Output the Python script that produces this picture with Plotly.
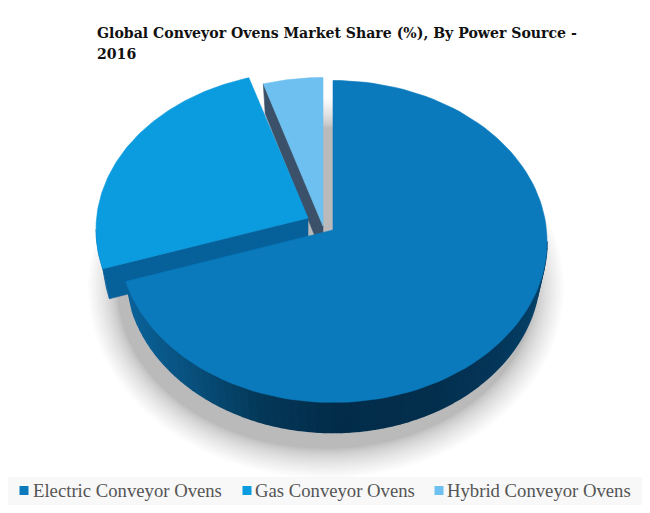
import numpy as np
import plotly.graph_objects as go

categories = ["Electric Conveyor Ovens", "Gas Conveyor Ovens", "Hybrid Conveyor Ovens"]
shares = [71.0, 24.5, 4.5]
slice_colors = ["#0a7abc", "#0b9bdf", "#6dc0ef"]
wall_colors = ["#06609a", "#06609a", "#3a5169"]
title_lines = ["Global Conveyor Ovens Market Share (%), By Power Source -", "2016"]

# exploded slices, all in page pixels
apex = [(333, 230), (308, 218), (323, 226)]
slice_rx = [214, 212, 214]
slice_ry = [161, 158, 160]
BOTTOM_SHRINK = 7
DEPTH = 30
APEX_TO_CENTER = 11.5

# the page body has an 8px margin, so the plot area starts there
PAGE_MARGIN = 8

# side wall shading, left to right along the big slice
wall_stop_x = [125, 190, 260, 333, 430, 500, 545]
wall_stop_r = [10, 8, 4, 2, 3, 4, 6]
wall_stop_g = [98, 80, 56, 44, 46, 54, 66]
wall_stop_b = [154, 124, 88, 74, 76, 90, 104]

edges = np.cumsum([0] + shares) / sum(shares) * 2 * np.pi


def arc(cx, cy, rx, ry, a0, a1, n=120):
    t = np.linspace(a0, a1, n)
    return cx + rx * np.sin(t), cy - ry * np.cos(t)


def rim(i, a0, a1, n=120, bottom=False):
    ax, ay = apex[i]
    if bottom:
        return arc(ax, ay + APEX_TO_CENTER + DEPTH, slice_rx[i] - BOTTOM_SHRINK, slice_ry[i], a0, a1, n)
    return arc(ax, ay + APEX_TO_CENTER, slice_rx[i], slice_ry[i], a0, a1, n)


def poly(fig, x, y, color, line=True, width=0.6):
    fig.add_trace(go.Scatter(
        x=list(x), y=list(y), mode="lines", fill="toself", fillcolor=color,
        line=dict(color=color if line else "rgba(0,0,0,0)", width=width),
        hoverinfo="skip", showlegend=False))


def top_face(fig, i):
    ax, ay = apex[i]
    x, y = rim(i, edges[i], edges[i + 1])
    poly(fig, np.r_[ax, x, ax], np.r_[ay, y, ay], slice_colors[i])


def radial_wall(fig, i, angle):
    # wall under one cut edge of a slice
    ax, ay = apex[i]
    ex, ey = rim(i, angle, angle, 1)
    bx, by = rim(i, angle, angle, 1, bottom=True)
    poly(fig, [ax, ex[0], bx[0], ax, ax], [ay, ey[0], by[0], ay + DEPTH, ay], wall_colors[i])


fig = go.Figure()

# soft shadow under the pie, rings packed tighter towards the pie
rings = 24
for i in range(rings, 0, -1):
    k = 30 * (i / rings) ** 1.6
    x, y = arc(326, 288, 208 + k, 160 + k, 0, 2 * np.pi, 160)
    poly(fig, x, y, "rgba(60,60,60,0.015)", line=False)

# hybrid slice
radial_wall(fig, 2, edges[2])
top_face(fig, 2)

# gas slice
radial_wall(fig, 1, edges[1])
x0, y0 = rim(1, edges[1], 1.5 * np.pi)
x1, y1 = rim(1, edges[1], 1.5 * np.pi, bottom=True)
poly(fig, np.r_[x0, x1[::-1]], np.r_[y0, y1[::-1]], wall_colors[1])
top_face(fig, 1)

# big slice, curved wall in narrow shaded bands
band_edges = np.linspace(0.5 * np.pi, edges[1], 71)
for a0, a1 in zip(band_edges[:-1], band_edges[1:]):
    x0, y0 = rim(0, a0, a1, 4)
    x1, y1 = rim(0, a0, a1, 4, bottom=True)
    mid = x0.mean()
    r = np.interp(mid, wall_stop_x, wall_stop_r)
    g = np.interp(mid, wall_stop_x, wall_stop_g)
    b = np.interp(mid, wall_stop_x, wall_stop_b)
    poly(fig, np.r_[x0, x1[::-1]], np.r_[y0, y1[::-1]], f"rgb({r:.0f},{g:.0f},{b:.0f})", width=1.6)
top_face(fig, 0)

# legend, drawn by hand so the swatches sit tight against the labels
legend_swatch_x = [24, 247, 439]
legend_text_x = [33, 255, 447]
fig.add_shape(type="rect", x0=0, x1=650, y0=477, y1=505, fillcolor="#f8f8f8",
              line_width=0, layer="below")
fig.add_trace(go.Scatter(
    x=legend_swatch_x, y=[490.5] * 3, mode="markers",
    marker=dict(symbol="square", size=9, color=slice_colors),
    hoverinfo="skip", showlegend=False))
for name, tx in zip(categories, legend_text_x):
    fig.add_annotation(x=tx, y=490, text=name, showarrow=False, xanchor="left", yanchor="middle",
                       xshift=-2, font=dict(family="Liberation Serif", size=18.7, color="#555555"))

for line, ty in zip(title_lines, [33, 54]):
    fig.add_annotation(x=97, y=ty, text=line, showarrow=False, xanchor="left", yanchor="middle",
                       xshift=-2, font=dict(family="DejaVu Serif", size=14.1, color="#111111", weight="bold"))

fig.update_xaxes(range=[PAGE_MARGIN, 650], visible=False, fixedrange=True)
fig.update_yaxes(range=[513, PAGE_MARGIN], visible=False, fixedrange=True)
fig.update_layout(width=650 - PAGE_MARGIN, height=513 - PAGE_MARGIN, margin=dict(l=0, r=0, t=0, b=0),
                  paper_bgcolor="white", plot_bgcolor="white", showlegend=False)

fig.write_html("out.html")
